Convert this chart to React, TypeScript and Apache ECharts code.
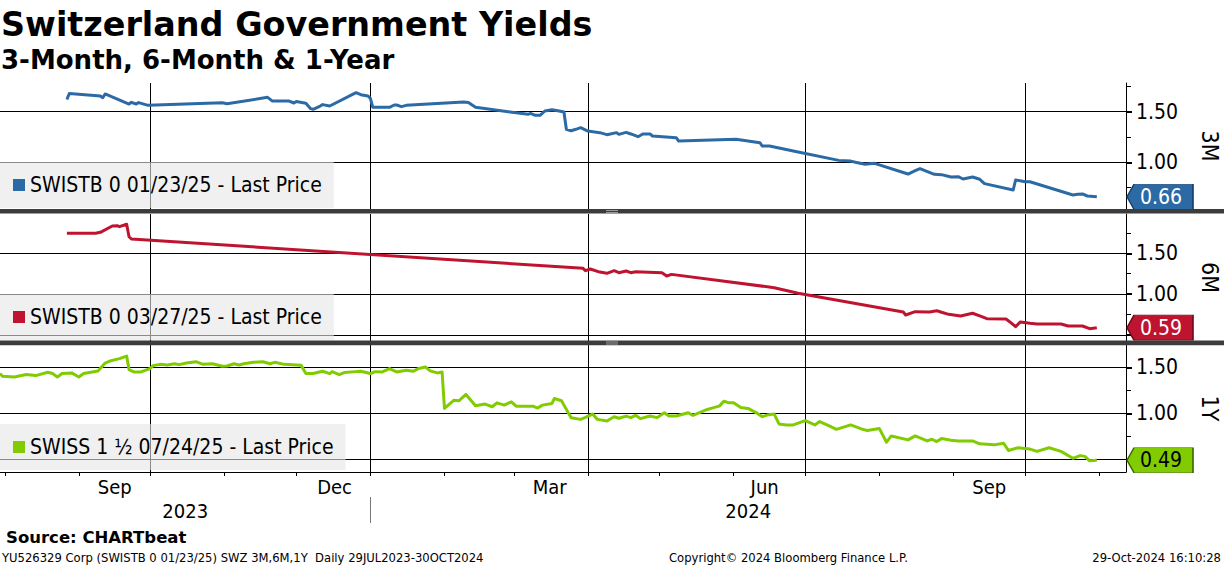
import React, { useEffect, useRef } from "react";
import * as echarts from "echarts";

// ---------- data ----------
const threeMonth: [string, number][] = [
  ["2023-08-27", 1.62], ["2023-08-28", 1.68], ["2023-09-10", 1.655], ["2023-09-11", 1.638], ["2023-09-12", 1.675],
  ["2023-09-22", 1.576], ["2023-09-23", 1.593], ["2023-09-25", 1.576], ["2023-09-26", 1.59], ["2023-09-30", 1.563],
  ["2023-10-31", 1.589], ["2023-11-02", 1.579], ["2023-11-19", 1.642], ["2023-11-21", 1.605], ["2023-11-28", 1.605],
  ["2023-11-30", 1.586], ["2023-12-01", 1.6], ["2023-12-05", 1.583], ["2023-12-07", 1.53], ["2023-12-08", 1.524],
  ["2023-12-11", 1.556], ["2023-12-12", 1.57], ["2023-12-15", 1.556], ["2023-12-26", 1.688], ["2023-12-28", 1.668],
  ["2023-12-31", 1.655], ["2024-01-01", 1.632], ["2024-01-02", 1.543], ["2024-01-09", 1.543], ["2024-01-11", 1.566],
  ["2024-01-12", 1.566], ["2024-01-14", 1.55], ["2024-01-16", 1.563], ["2024-02-09", 1.596], ["2024-02-11", 1.59],
  ["2024-02-14", 1.543], ["2024-03-07", 1.474], ["2024-03-08", 1.484], ["2024-03-10", 1.464], ["2024-03-12", 1.464],
  ["2024-03-14", 1.507], ["2024-03-17", 1.52], ["2024-03-20", 1.507], ["2024-03-22", 1.497], ["2024-03-23", 1.326],
  ["2024-03-25", 1.312], ["2024-03-27", 1.326], ["2024-03-29", 1.342], ["2024-04-01", 1.309], ["2024-04-06", 1.293],
  ["2024-04-09", 1.273], ["2024-04-13", 1.293], ["2024-04-14", 1.276], ["2024-04-17", 1.296], ["2024-04-19", 1.28],
  ["2024-04-22", 1.253], ["2024-04-24", 1.28], ["2024-04-27", 1.28], ["2024-04-28", 1.26], ["2024-05-08", 1.243],
  ["2024-05-09", 1.21], ["2024-06-02", 1.227], ["2024-06-12", 1.194], ["2024-06-13", 1.161], ["2024-06-16", 1.161],
  ["2024-06-28", 1.102], ["2024-07-15", 1.019], ["2024-07-20", 1.012], ["2024-07-22", 1.0], ["2024-07-26", 0.98],
  ["2024-07-30", 0.99], ["2024-08-13", 0.884], ["2024-08-16", 0.917], ["2024-08-18", 0.937], ["2024-08-24", 0.881],
  ["2024-08-27", 0.878], ["2024-08-31", 0.855], ["2024-09-03", 0.858], ["2024-09-05", 0.835], ["2024-09-09", 0.855],
  ["2024-09-12", 0.832], ["2024-09-14", 0.789], ["2024-09-26", 0.726], ["2024-09-27", 0.825], ["2024-10-01", 0.808],
  ["2024-10-03", 0.808], ["2024-10-21", 0.677], ["2024-10-23", 0.684], ["2024-10-25", 0.687], ["2024-10-27", 0.667],
  ["2024-10-31", 0.66],
];

const sixMonth: [string, number][] = [
  ["2023-08-27", 1.745], ["2023-09-08", 1.745], ["2023-09-10", 1.757], ["2023-09-15", 1.834], ["2023-09-17", 1.838],
  ["2023-09-18", 1.826], ["2023-09-21", 1.855], ["2023-09-22", 1.703], ["2023-09-23", 1.675], ["2024-03-30", 1.316],
  ["2024-03-31", 1.287], ["2024-04-02", 1.308], ["2024-04-06", 1.27], ["2024-04-09", 1.255], ["2024-04-12", 1.287],
  ["2024-04-14", 1.263], ["2024-04-17", 1.283], ["2024-04-19", 1.263], ["2024-04-21", 1.275], ["2024-05-02", 1.263],
  ["2024-05-04", 1.222], ["2024-05-06", 1.242], ["2024-06-18", 1.079], ["2024-06-28", 1.01], ["2024-08-11", 0.782],
  ["2024-08-12", 0.745], ["2024-08-16", 0.786], ["2024-08-22", 0.782], ["2024-08-25", 0.798], ["2024-08-27", 0.778],
  ["2024-08-30", 0.753], ["2024-09-04", 0.733], ["2024-09-09", 0.766], ["2024-09-12", 0.733], ["2024-09-15", 0.7],
  ["2024-09-23", 0.696], ["2024-09-25", 0.651], ["2024-09-27", 0.602], ["2024-09-29", 0.66], ["2024-10-03", 0.643],
  ["2024-10-06", 0.635], ["2024-10-16", 0.635], ["2024-10-19", 0.61], ["2024-10-25", 0.61], ["2024-10-28", 0.577],
  ["2024-10-31", 0.59],
];

const oneYear: [string, number][] = [
  ["2023-07-30", 1.432], ["2023-07-31", 1.403], ["2023-08-05", 1.395], ["2023-08-10", 1.421], ["2023-08-14", 1.41],
  ["2023-08-19", 1.446], ["2023-08-21", 1.432], ["2023-08-23", 1.395], ["2023-08-25", 1.432], ["2023-08-29", 1.439],
  ["2023-09-01", 1.395], ["2023-09-03", 1.432], ["2023-09-06", 1.446], ["2023-09-09", 1.46], ["2023-09-12", 1.546],
  ["2023-09-14", 1.568], ["2023-09-18", 1.594], ["2023-09-21", 1.622], ["2023-09-22", 1.475], ["2023-09-24", 1.45],
  ["2023-09-27", 1.45], ["2023-10-01", 1.489], ["2023-10-02", 1.518], ["2023-10-05", 1.532], ["2023-10-08", 1.525],
  ["2023-10-11", 1.539], ["2023-10-13", 1.529], ["2023-10-16", 1.546], ["2023-10-20", 1.561], ["2023-10-23", 1.532],
  ["2023-10-27", 1.539], ["2023-10-31", 1.511], ["2023-11-02", 1.514], ["2023-11-05", 1.539], ["2023-11-07", 1.525],
  ["2023-11-09", 1.539], ["2023-11-13", 1.554], ["2023-11-17", 1.561], ["2023-11-20", 1.539], ["2023-11-22", 1.554],
  ["2023-11-26", 1.532], ["2023-12-03", 1.521], ["2023-12-05", 1.432], ["2023-12-08", 1.432], ["2023-12-12", 1.457],
  ["2023-12-15", 1.432], ["2023-12-16", 1.453], ["2023-12-19", 1.421], ["2023-12-21", 1.443], ["2023-12-26", 1.453],
  ["2023-12-28", 1.457], ["2024-01-01", 1.432], ["2024-01-03", 1.453], ["2024-01-06", 1.45], ["2024-01-09", 1.486],
  ["2024-01-12", 1.45], ["2024-01-16", 1.468], ["2024-01-19", 1.457], ["2024-01-21", 1.486], ["2024-01-24", 1.504],
  ["2024-01-26", 1.461], ["2024-01-29", 1.439], ["2024-01-31", 1.45], ["2024-02-01", 1.053], ["2024-02-05", 1.143],
  ["2024-02-07", 1.136], ["2024-02-10", 1.205], ["2024-02-14", 1.082], ["2024-02-18", 1.1], ["2024-02-21", 1.071],
  ["2024-02-23", 1.114], ["2024-02-26", 1.089], ["2024-02-29", 1.125], ["2024-03-02", 1.078], ["2024-03-09", 1.078],
  ["2024-03-11", 1.057], ["2024-03-13", 1.089], ["2024-03-17", 1.107], ["2024-03-18", 1.161], ["2024-03-21", 1.136],
  ["2024-03-22", 1.089], ["2024-03-25", 0.952], ["2024-03-29", 0.934], ["2024-03-31", 0.955], ["2024-04-03", 0.992],
  ["2024-04-05", 0.934], ["2024-04-09", 0.917], ["2024-04-12", 0.963], ["2024-04-14", 0.946], ["2024-04-17", 0.97],
  ["2024-04-19", 0.953], ["2024-04-21", 0.978], ["2024-04-23", 0.942], ["2024-04-27", 0.97], ["2024-04-30", 0.953],
  ["2024-05-03", 1.006], ["2024-05-05", 0.97], ["2024-05-08", 0.97], ["2024-05-13", 1.006], ["2024-05-15", 0.978],
  ["2024-05-21", 1.042], ["2024-05-24", 1.064], ["2024-05-26", 1.078], ["2024-05-28", 1.132], ["2024-05-30", 1.114],
  ["2024-06-01", 1.114], ["2024-06-04", 1.064], ["2024-06-07", 1.053], ["2024-06-11", 0.999], ["2024-06-13", 0.963],
  ["2024-06-15", 0.981], ["2024-06-18", 0.992], ["2024-06-20", 0.884], ["2024-06-23", 0.874], ["2024-06-26", 0.874],
  ["2024-07-01", 0.92], ["2024-07-05", 0.874], ["2024-07-07", 0.91], ["2024-07-11", 0.863], ["2024-07-14", 0.826],
  ["2024-07-20", 0.874], ["2024-07-25", 0.826], ["2024-07-27", 0.812], ["2024-08-01", 0.834], ["2024-08-04", 0.686],
  ["2024-08-06", 0.754], ["2024-08-13", 0.711], ["2024-08-16", 0.754], ["2024-08-21", 0.7], ["2024-08-23", 0.718],
  ["2024-08-25", 0.693], ["2024-08-27", 0.725], ["2024-08-31", 0.708], ["2024-09-03", 0.7], ["2024-09-09", 0.7],
  ["2024-09-12", 0.668], ["2024-09-18", 0.657], ["2024-09-22", 0.675], ["2024-09-24", 0.596], ["2024-09-28", 0.625],
  ["2024-10-03", 0.611], ["2024-10-06", 0.586], ["2024-10-11", 0.625], ["2024-10-16", 0.586], ["2024-10-21", 0.511],
  ["2024-10-24", 0.54], ["2024-10-26", 0.532], ["2024-10-28", 0.484], ["2024-10-31", 0.49],
];

const seriesNames = [
  "SWISTB 0 01/23/25 - Last Price",
  "SWISTB 0 03/27/25 - Last Price",
  "SWISS 1 ½ 07/24/25 - Last Price",
];
const panelNames = ["3M", "6M", "1Y"];
const seriesColors = ["#2c6aa6", "#be1430", "#80cc00"];
const boxBorders = ["#173f66", "#6e0a1a", "#3d6600"];
const boxTextColors = ["#ffffff", "#ffffff", "#000000"];

const quarterStarts = ["2023-10-01", "2024-01-01", "2024-04-01", "2024-07-01", "2024-10-01"];
const monthStarts = [
  "2023-08-01", "2023-09-01", "2023-10-01", "2023-11-01", "2023-12-01", "2024-01-01", "2024-02-01",
  "2024-03-01", "2024-04-01", "2024-05-01", "2024-06-01", "2024-07-01", "2024-08-01", "2024-09-01",
  "2024-10-01", "2024-11-01",
];
const monthLabelDates = ["2023-09-16", "2023-12-17", "2024-03-16", "2024-06-14", "2024-09-16"];
const monthNames = ["Jan", "Feb", "Mar", "Apr", "May", "Jun", "Jul", "Aug", "Sep", "Oct", "Nov", "Dec"];
const yearBoundary = "2024-01-01";
const axisStart = "2023-07-30T00:00:00";
const axisEnd = "2024-11-12T05:00:00";

const majorTicks = [[1.0, 1.5], [0.5, 1.0, 1.5], [0.5, 1.0, 1.5]];
const labelTicks = [[1.0, 1.5], [1.0, 1.5], [1.0, 1.5]];
const minorTicks = [[0.75, 1.25, 1.75], [0.75, 1.25, 1.75], [0.75, 1.25]];
const yRanges = [[0.5385, 1.7836], [0.4266, 1.981], [0.362, 1.7424]];

const titleText = "Switzerland Government Yields";
const subtitleText = "3-Month, 6-Month & 1-Year";
const sourceText = "Source: CHARTbeat";
const footerLeft = "YU526329 Corp (SWISTB 0 01/23/25) SWZ 3M,6M,1Y  Daily 29JUL2023-30OCT2024";
const footerMid = "Copyright\u00A9 2024 Bloomberg Finance L.P.";
const footerRight = "29-Oct-2024 16:10:28";

// ---------- layout ----------
const COND = "'DejaVu Sans Condensed', 'DejaVu Sans', sans-serif";
const SANS = "'DejaVu Sans', sans-serif";
const gridTops = [83, 214, 345];
const gridHeights = [126, 127, 127];
const gridWidth = 1126;
const legendTops = [162, 294, 424];

const ts = (s: string) => new Date(s.length === 10 ? s + "T00:00:00" : s).getTime();

function buildOption() {
  const xMin = ts(axisStart);
  const xMax = ts(axisEnd);
  const jan = ts(yearBoundary);
  const quarterTs = quarterStarts.map(ts);
  const allData = [threeMonth, sixMonth, oneYear];

  const grids = gridTops.map((top, i) => ({
    left: 0,
    top,
    width: gridWidth,
    height: gridHeights[i],
    outerBoundsMode: "none",
    containLabel: false,
  }));

  const baseX = (gridIndex: number, lineShow: boolean) => ({
    type: "value",
    gridIndex,
    position: "bottom",
    min: xMin,
    max: xMax,
    scale: true,
    axisLine: { show: lineShow, onZero: false, lineStyle: { color: "#000", width: 1 } },
    axisTick: { show: false, customValues: quarterTs },
    axisLabel: { show: false },
    splitLine: { show: true, lineStyle: { color: "#000", width: 1 } },
  });

  const xAxes: any[] = [
    baseX(0, false),
    baseX(1, false),
    baseX(2, true),
    {
      type: "value",
      gridIndex: 2,
      position: "bottom",
      min: xMin,
      max: xMax,
      scale: true,
      axisLine: { show: false, onZero: false },
      axisTick: { show: true, customValues: monthStarts.map(ts), length: 4, lineStyle: { color: "#000", width: 1 } },
      axisLabel: {
        show: true,
        customValues: monthLabelDates.map(ts),
        formatter: (v: number) => monthNames[new Date(v).getMonth()],
        color: "#000",
        fontSize: 20,
        fontFamily: COND,
        margin: 5,
      },
      splitLine: { show: false },
    },
    {
      type: "value",
      gridIndex: 2,
      position: "bottom",
      min: xMin,
      max: xMax,
      scale: true,
      offset: 25,
      axisLine: { show: false, onZero: false },
      axisTick: { show: true, customValues: [jan], length: 26, lineStyle: { color: "#777", width: 1 } },
      axisLabel: {
        show: true,
        customValues: [(xMin + jan) / 2, (jan + xMax) / 2],
        formatter: (v: number) => String(new Date(v).getFullYear()),
        color: "#000",
        fontSize: 20,
        fontFamily: COND,
        margin: 4,
      },
      splitLine: { show: false },
    },
  ];

  const yAxes: any[] = [];
  for (let i = 0; i < 3; i++) {
    yAxes.push({
      type: "value",
      gridIndex: i,
      position: "right",
      min: yRanges[i][0],
      max: yRanges[i][1],
      axisLine: { show: true, onZero: false, lineStyle: { color: "#000", width: 1 } },
      axisTick: { show: true, customValues: majorTicks[i], length: 6, lineStyle: { color: "#000", width: 2 } },
      axisLabel: {
        show: true,
        customValues: labelTicks[i],
        formatter: (v: number) => v.toFixed(2),
        color: "#000",
        fontSize: 21,
        fontFamily: COND,
        margin: 10,
      },
      splitLine: { show: true, lineStyle: { color: "#000", width: 1 } },
      name: panelNames[i],
      nameLocation: "middle",
      nameRotate: -90,
      nameGap: 72,
      nameTextStyle: { color: "#000", fontSize: 23, fontFamily: COND },
    });
    yAxes.push({
      type: "value",
      gridIndex: i,
      position: "right",
      min: yRanges[i][0],
      max: yRanges[i][1],
      axisLine: { show: false, onZero: false },
      axisTick: { show: true, customValues: minorTicks[i], length: 5, lineStyle: { color: "#000", width: 1 } },
      axisLabel: { show: false },
      splitLine: { show: false },
    });
  }

  const series = allData.map((data, i) => {
    const last = data[data.length - 1][1];
    return {
      type: "line",
      name: seriesNames[i],
      xAxisIndex: i,
      yAxisIndex: i * 2,
      data: data.map(([d, v]) => [ts(d), v]),
      showSymbol: false,
      symbol: "none",
      lineStyle: { color: seriesColors[i], width: 3, join: "round" },
      itemStyle: { color: seriesColors[i] },
      z: 3,
      markPoint: {
        silent: true,
        symbol: "path://M7,0L66,0L66,25L7,25L0,12.5Z",
        symbolSize: [66, 25],
        symbolKeepAspect: false,
        symbolOffset: [34, 0],
        itemStyle: { color: seriesColors[i], borderColor: boxBorders[i], borderWidth: 1 },
        label: {
          show: true,
          position: "inside",
          formatter: last.toFixed(2),
          color: boxTextColors[i],
          fontSize: 21,
          fontFamily: COND,
          offset: [1, 0],
        },
        data: [{ coord: [xMax, last], value: last }],
      },
    };
  });

  const legends = seriesNames.map((name, i) => ({
    data: [name],
    left: 0,
    top: legendTops[i],
    orient: "horizontal",
    icon: "rect",
    itemWidth: 12,
    itemHeight: 12,
    itemGap: 0,
    selectedMode: false,
    backgroundColor: "rgba(230,230,230,0.6)",
    padding: [12, 12, 12, 13],
    textStyle: { color: "#000", fontSize: 21, fontFamily: COND, lineHeight: 22 },
  }));

  const graphic: any[] = [
    { type: "rect", shape: { x: 0, y: 209, width: 1224, height: 4.6 }, style: { fill: "#3c3c3c" }, z: 50 },
    { type: "rect", shape: { x: 0, y: 340.6, width: 1224, height: 4.6 }, style: { fill: "#3c3c3c" }, z: 50 },
    { type: "line", shape: { x1: 606, y1: 210.5, x2: 618, y2: 210.5 }, style: { stroke: "#9a9a9a", lineWidth: 1 }, z: 51 },
    { type: "line", shape: { x1: 606, y1: 212.5, x2: 618, y2: 212.5 }, style: { stroke: "#9a9a9a", lineWidth: 1 }, z: 51 },
    { type: "line", shape: { x1: 606, y1: 342, x2: 618, y2: 342 }, style: { stroke: "#9a9a9a", lineWidth: 1 }, z: 51 },
    { type: "line", shape: { x1: 606, y1: 344, x2: 618, y2: 344 }, style: { stroke: "#9a9a9a", lineWidth: 1 }, z: 51 },
    {
      type: "text", x: 1, y: 24.5, z: 60,
      style: { text: titleText, fill: "#000", fontSize: 33.4, fontWeight: "bold", fontFamily: SANS, verticalAlign: "middle" },
    },
    {
      type: "text", x: 1, y: 59.5, z: 60,
      style: { text: subtitleText, fill: "#000", fontSize: 26, fontWeight: "bold", fontFamily: SANS, verticalAlign: "middle" },
    },
    {
      type: "text", x: 6, y: 537, z: 60,
      style: { text: sourceText, fill: "#000", fontSize: 16.5, fontWeight: "bold", fontFamily: SANS, verticalAlign: "middle" },
    },
    {
      type: "text", x: 2, y: 557.5, z: 60,
      style: { text: footerLeft, fill: "#000", fontSize: 11.6, fontFamily: SANS, verticalAlign: "middle" },
    },
    {
      type: "text", x: 669, y: 557.5, z: 60,
      style: { text: footerMid, fill: "#000", fontSize: 11.6, fontFamily: SANS, verticalAlign: "middle" },
    },
    {
      type: "text", x: 1221, y: 557.5, z: 60,
      style: { text: footerRight, fill: "#000", fontSize: 11.6, fontFamily: SANS, verticalAlign: "middle", align: "right" },
    },
  ];

  return {
    animation: false,
    backgroundColor: "#ffffff",
    textStyle: { fontFamily: COND },
    grid: grids,
    xAxis: xAxes,
    yAxis: yAxes,
    legend: legends,
    series,
    graphic,
  };
}

export default function App() {
  const ref = useRef<HTMLDivElement>(null);
  useEffect(() => {
    document.body.style.margin = "0";
    if (!ref.current) return;
    const chart = echarts.init(ref.current, null, { renderer: "svg" });
    chart.setOption(buildOption() as any);
    return () => {
      chart.dispose();
    };
  }, []);
  return <div ref={ref} style={{ width: 1224, height: 566, background: "#fff" }} />;
}
